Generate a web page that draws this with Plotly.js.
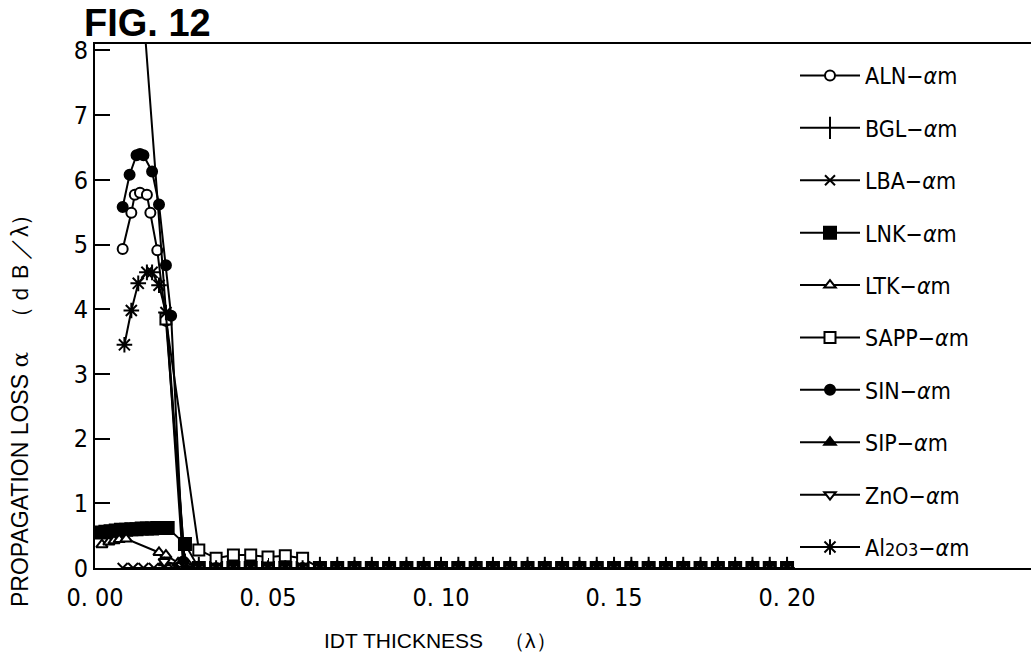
<!DOCTYPE html>
<html>
<head>
<meta charset="utf-8">
<script src="https://cdn.plot.ly/plotly-3.0.1.min.js"></script>
<style>html,body{margin:0;padding:0;background:#fff;}#chart{width:1031px;height:664px;}</style>
</head>
<body>
<div id="chart"></div>
<script>
// Shared tail of the x grid (IDT thickness, λ) where every series is ~0
var tailX = [0.030,0.035,0.040,0.045,0.050,0.055,0.060,0.065,0.070,0.075,0.080,0.085,0.090,0.095,0.100,0.105,0.110,0.115,0.120,0.125,0.130,0.135,0.140,0.145,0.150,0.155,0.160,0.165,0.170,0.175,0.180,0.185,0.190,0.195,0.200];
var tailY = [0,0,0,0,0,0,0,0,0,0,0,0,0,0,0,0,0,0,0,0,0,0,0,0,0,0,0,0,0,0,0,0,0,0,0];

var alnX = [0.008,0.0105,0.0115,0.013,0.015,0.016,0.018,0.0205,0.026];
var alnY = [4.93,5.49,5.77,5.8,5.77,5.49,4.91,3.82,0.05];

var bglX = [0.013,0.026];
var bglY = [9.3,0.05];

var lbaX = [0.008,0.011,0.014,0.017,0.020,0.0225,0.0255];
var lbaY = [0,0,0,0,0,0,0];

var lnkX = [0.0015,0.003,0.0045,0.006,0.0075,0.009,0.0105,0.012,0.0135,0.015,0.0165,0.018,0.0195,0.021,0.026];
var lnkY = [0.55,0.56,0.57,0.58,0.59,0.59,0.6,0.6,0.61,0.61,0.61,0.62,0.62,0.62,0.37];

var ltkX = [0.002,0.004,0.0055,0.007,0.009,0.0185,0.0205,0.024,0.027];
var ltkY = [0.36,0.4,0.42,0.44,0.45,0.24,0.2,0.08,0.05];

var sappX = [0.0205,0.030,0.035,0.040,0.045,0.050,0.055,0.060,0.065,0.070,0.075,0.080,0.085,0.090,0.095,0.100,0.105,0.110,0.115,0.120,0.125,0.130,0.135,0.140,0.145,0.150,0.155,0.160,0.165,0.170,0.175,0.180,0.185,0.190,0.195,0.200];
var sappY = [3.85,0.28,0.15,0.2,0.2,0.17,0.19,0.15,0,0,0,0,0,0,0,0,0,0,0,0,0,0,0,0,0,0,0,0,0,0,0,0,0,0,0,0];

var sinX = [0.008,0.010,0.012,0.013,0.014,0.0165,0.0185,0.0205,0.022,0.0255];
var sinY = [5.58,6.08,6.38,6.4,6.38,6.13,5.62,4.68,3.9,0.1];

var sipX = [0.020,0.025];
var sipY = [0.08,0.05];

var znoX = [0.020,0.025];
var znoY = [0.1,0.04];

var alxX = [0.0085,0.0105,0.0125,0.015,0.0165,0.0185,0.0205,0.0255];
var alxY = [3.45,3.98,4.4,4.57,4.57,4.37,3.95,0.02];

var seriesNames = ['ALN−<i>α</i>m','BGL−<i>α</i>m','LBA−<i>α</i>m','LNK−<i>α</i>m','LTK−<i>α</i>m','SAPP−<i>α</i>m','SIN−<i>α</i>m','SIP−<i>α</i>m','ZnO−<i>α</i>m','Al<span style="font-size:18px">2O3</span>−<i>α</i>m'];

var xTickVals = [0,0.05,0.10,0.15,0.20];
var xTickText = ['0. 00','0. 05','0. 10','0. 15','0. 20'];
var yTickVals = [0,1,2,3,4,5,6,7,8];

var narrow = 'DejaVu Sans Condensed, Liberation Sans Narrow, Arial Narrow, sans-serif';

// fill: 'white' = white-filled outline symbol, 'black' = solid, 'line' = stroke-only symbol
function mk(name, xs, ys, withTail, symbol, size, fill, i) {
  var x = withTail ? xs.concat(tailX) : xs;
  var y = withTail ? ys.concat(tailY) : ys;
  return {
    type: 'scatter', mode: 'lines+markers', name: name, x: x, y: y,
    legendgroup: 'g' + i,
    line: {color: '#000', width: 2},
    marker: {symbol: symbol, size: size, color: fill === 'white' ? '#fff' : '#000',
             line: {color: '#000', width: 2}}
  };
}

var data = [
  mk(seriesNames[0], alnX, alnY, true, 'circle', 10, 'white', 0),
  mk(seriesNames[1], bglX, bglY, true, 'line-ns-open', 16, 'line', 1),
  mk(seriesNames[2], lbaX, lbaY, true, 'x-thin-open', 10, 'line', 2),
  mk(seriesNames[3], lnkX, lnkY, true, 'square', 12, 'black', 3),
  mk(seriesNames[4], ltkX, ltkY, true, 'triangle-up', 10, 'white', 4),
  mk(seriesNames[5], sappX, sappY, false, 'square', 11, 'white', 5),
  mk(seriesNames[6], sinX, sinY, true, 'circle', 10, 'black', 6),
  mk(seriesNames[7], sipX, sipY, true, 'triangle-up', 10, 'black', 7),
  mk(seriesNames[8], znoX, znoY, true, 'triangle-down', 10, 'white', 8),
  mk(seriesNames[9], alxX, alxY, true, 'asterisk-open', 13, 'line', 9)
];

var layout = {
  width: 1031, height: 664,
  margin: {l: 95, r: 0, t: 44, b: 96, pad: 0},
  paper_bgcolor: '#fff', plot_bgcolor: '#fff',
  showlegend: true,
  font: {family: narrow, color: '#000'},
  title: {text: '<b>FIG. 12</b>', font: {family: 'Liberation Sans, Arial, sans-serif', size: 38, color: '#000'},
          x: 84/1031, xanchor: 'left', xref: 'container', y: 1 - 23/664, yanchor: 'middle', yref: 'container'},
  xaxis: {range: [0, 0.2705], showgrid: false, zeroline: false, showline: true, linecolor: '#000', linewidth: 2,
          mirror: true, ticks: 'inside', ticklen: 10, tickwidth: 1, tickcolor: '#000',
          tickmode: 'array', tickvals: xTickVals, ticktext: xTickText, ticklabelstandoff: 6,
          tickfont: {family: narrow, size: 25, color: '#000'}},
  yaxis: {range: [0, 8.1], showgrid: false, zeroline: false, showline: true, linecolor: '#000', linewidth: 2,
          ticks: 'inside', ticklen: 15, tickwidth: 2, tickcolor: '#000',
          tickmode: 'array', tickvals: yTickVals,
          tickfont: {family: narrow, size: 25, color: '#000'}},
  legend: {x: (795 - 95) / 936, xanchor: 'left', y: (568 - 54) / 524, yanchor: 'top',
           bgcolor: 'rgba(0,0,0,0)', tracegroupgap: 19.5, traceorder: 'grouped', itemwidth: 60,
           font: {family: narrow, size: 23, color: '#000'}},
  annotations: [
    {text: 'PROPAGATION LOSS <span style="font-family:DejaVu Serif">α</span>　（ｄＢ／λ）', xref: 'paper', yref: 'paper',
     x: (20 - 95) / 936, y: (568 - 405) / 524, xanchor: 'center', yanchor: 'middle', textangle: -90, showarrow: false,
     font: {family: 'Liberation Sans, Arial, sans-serif', size: 23, color: '#000'}},
    {text: 'IDT THICKNESS　（λ）', xref: 'paper', yref: 'paper',
     x: (440 - 95) / 936, y: (568 - 640) / 524, xanchor: 'center', yanchor: 'middle', showarrow: false,
     font: {family: 'Liberation Sans, Arial, sans-serif', size: 21, color: '#000'}}
  ]
};

Plotly.newPlot('chart', data, layout, {staticPlot: true, displayModeBar: false});
</script>
</body>
</html>
